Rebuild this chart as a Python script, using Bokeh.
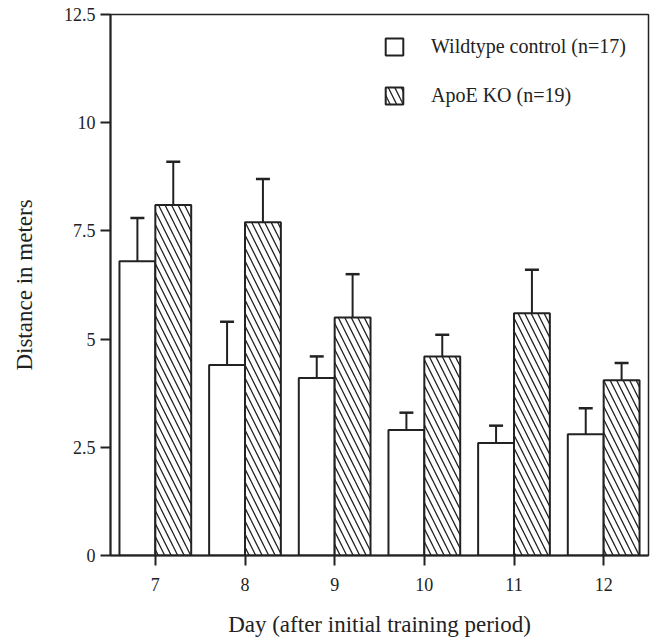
from bokeh.plotting import figure
from bokeh.models import Range1d, FixedTicker, Legend, LegendItem
from bokeh.embed import file_html
from bokeh.resources import INLINE

days = [7, 8, 9, 10, 11, 12]
wt_mean = [6.8, 4.4, 4.1, 2.9, 2.6, 2.8]
wt_err = [1.0, 1.0, 0.5, 0.4, 0.4, 0.6]
ko_mean = [8.1, 7.7, 5.5, 4.6, 5.6, 4.05]
ko_err = [1.0, 1.0, 1.0, 0.5, 1.0, 0.4]
y_ticks = [0, 2.5, 5, 7.5, 10, 12.5]
y_labels = ["0", "2.5", "5", "7.5", "10", "12.5"]

FONT = "Liberation Serif"
BW = 0.4
CAP = 0.078

p = figure(width=652, height=640, output_backend="svg", toolbar_location=None,
           x_range=Range1d(6.5, 12.5), y_range=Range1d(0, 12.5),
           min_border_left=110, min_border_right=4, min_border_top=14,
           min_border_bottom=85)
p.grid.visible = False
p.outline_line_color = "#222222"
p.outline_line_width = 1.5

wx = [d - BW / 2 for d in days]
kx = [d + BW / 2 for d in days]
wt_up = [m + e for m, e in zip(wt_mean, wt_err)]
ko_up = [m + e for m, e in zip(ko_mean, ko_err)]

# error bars (upper only)
p.segment(x0=wx, y0=wt_mean, x1=wx, y1=wt_up, line_color="#222222", line_width=2)
p.segment(x0=[x - CAP for x in wx], y0=wt_up, x1=[x + CAP for x in wx], y1=wt_up,
          line_color="#222222", line_width=2.5)
p.segment(x0=kx, y0=ko_mean, x1=kx, y1=ko_up, line_color="#222222", line_width=2)
p.segment(x0=[x - CAP for x in kx], y0=ko_up, x1=[x + CAP for x in kx], y1=ko_up,
          line_color="#222222", line_width=2.5)

r1 = p.vbar(x=wx, width=BW, top=wt_mean, bottom=0, fill_color="white",
            line_color="#222222", line_width=2)
r2 = p.vbar(x=kx, width=BW, top=ko_mean, bottom=0, fill_color="white",
            line_color="#222222", line_width=2,
            hatch_pattern="left_diagonal_line", hatch_color="#222222",
            hatch_scale=13, hatch_weight=1.3)

legend = Legend(items=[LegendItem(label="Wildtype control (n=17)", renderers=[r1]),
                       LegendItem(label="ApoE KO (n=19)", renderers=[r2])],
                location=(273, 448), orientation="vertical",
                glyph_width=22, glyph_height=21, spacing=26, padding=0, margin=0,
                label_standoff=26, border_line_alpha=0, background_fill_alpha=0,
                label_text_font=FONT, label_text_font_size="20px",
                label_text_color="#222222", label_height=21)
p.add_layout(legend)

# axes
p.yaxis.ticker = FixedTicker(ticks=y_ticks)
p.yaxis.major_label_overrides = {t: l for t, l in zip(y_ticks, y_labels)}
p.xaxis.ticker = FixedTicker(ticks=days)
p.xaxis.major_label_overrides = {d: str(d) for d in days}
for ax in (p.xaxis, p.yaxis):
    ax.minor_tick_line_color = None
    ax.major_tick_out = 10
    ax.major_tick_in = 0
    ax.axis_line_width = 2
    ax.axis_line_color = "#222222"
    ax.major_tick_line_width = 2
    ax.major_tick_line_color = "#222222"
    ax.major_label_text_font = FONT
    ax.major_label_text_font_size = "18px"
    ax.major_label_text_color = "#222222"
    ax.axis_label_text_font = FONT
    ax.axis_label_text_font_size = "23px"
    ax.axis_label_text_font_style = "normal"
    ax.axis_label_text_color = "#222222"
p.xaxis.major_label_standoff = 12
p.yaxis.major_label_standoff = 5
p.xaxis.axis_label = "Day (after initial training period)"
p.yaxis.axis_label = "Distance in meters"
p.xaxis.axis_label_standoff = 18
p.yaxis.axis_label_standoff = 24

open("out.html", "w").write(file_html(p, INLINE))
